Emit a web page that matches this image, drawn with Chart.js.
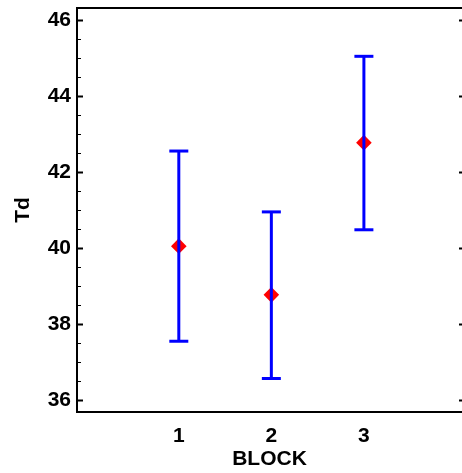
<!DOCTYPE html>
<html>
<head>
<meta charset="utf-8">
<script src="https://cdn.jsdelivr.net/npm/chart.js@4/dist/chart.umd.min.js"></script>
<style>
  html, body { margin: 0; padding: 0; background: #fff; }
  #chart { display: block; }
</style>
</head>
<body>
<canvas id="chart" width="462" height="473"></canvas>
<script>
const blocks = [1, 2, 3];
const means = [40.05, 38.77, 42.77];
const lower = [37.55, 36.57, 40.48];
const upper = [42.55, 40.95, 45.04];
const yTicks = [36, 38, 40, 42, 44, 46];

const FONT = "'Liberation Sans', Arial, sans-serif";

// one dataset per block for the error bar (line + caps)
let datasets = [];
for (let i = 0; i < blocks.length; i++) {
  datasets.push({
    label: 'bar' + blocks[i],
    data: [{x: blocks[i], y: lower[i]}, {x: blocks[i], y: upper[i]}],
    showLine: true,
    borderColor: '#0000ff',
    borderWidth: 3,
    pointStyle: 'line',
    pointRadius: 9.5,
    pointBorderWidth: 3,
    pointBorderColor: '#0000ff',
    pointBackgroundColor: '#0000ff',
    order: 1
  });
}
datasets.push({
  label: 'mean',
  data: blocks.map(function(b, i) { return {x: b, y: means[i]}; }),
  showLine: false,
  pointStyle: 'rectRot',
  pointRadius: 7.8,
  pointBorderWidth: 0,
  pointBackgroundColor: '#ff0000',
  pointBorderColor: '#ff0000',
  order: 2
});

// frame and inward ticks
const framePlugin = {
  id: 'frame',
  afterDraw: function(chart) {
    const ctx = chart.ctx;
    const a = chart.chartArea;
    const y = chart.scales.y;
    ctx.save();
    ctx.strokeStyle = '#000';
    ctx.lineWidth = 2;
    ctx.beginPath();
    ctx.moveTo(a.left, a.top);
    ctx.lineTo(a.right, a.top);
    ctx.moveTo(a.left, a.top - 1);
    ctx.lineTo(a.left, a.bottom + 1);
    ctx.moveTo(a.left, a.bottom);
    ctx.lineTo(a.right, a.bottom);
    ctx.stroke();
    for (let v = 36; v <= 46; v += 0.5) {
      const py = Math.round(y.getPixelForValue(v)) + 0.5;
      const major = yTicks.indexOf(v) > -1;
      ctx.lineWidth = major ? 2 : 1;
      ctx.beginPath();
      ctx.moveTo(a.left, py);
      ctx.lineTo(a.left + (major ? 6 : 4), py);
      if (major) {
        ctx.moveTo(a.right, py);
        ctx.lineTo(a.right - 3, py);
      }
      ctx.stroke();
    }
    ctx.restore();
  }
};

const ctx = document.getElementById('chart').getContext('2d');
const myChart = new Chart(ctx, {
  type: 'scatter',
  data: { datasets: datasets },
  options: {
    responsive: false,
    animation: false,
    layout: { autoPadding: false, padding: { left: 0, top: 8, right: 0, bottom: 0 } },
    plugins: { legend: { display: false }, tooltip: { enabled: false } },
    scales: {
      x: {
        type: 'linear',
        min: -0.1,
        max: 4.06,
        grid: { display: false, drawTicks: false },
        border: { display: false },
        afterBuildTicks: function(scale) {
          scale.ticks = blocks.map(function(v) { return {value: v}; });
        },
        afterFit: function(scale) {
          scale.height = 61;
          scale.paddingLeft = 0;
          scale.paddingRight = 0;
        },
        ticks: {
          color: '#000',
          padding: 12,
          maxRotation: 0,
          font: { family: FONT, size: 21, weight: 'bold' }
        },
        title: {
          display: true,
          text: 'BLOCK',
          color: '#000',
          padding: { top: 0, bottom: 1 },
          font: { family: FONT, size: 21, weight: 'bold' }
        }
      },
      y: {
        min: 35.69,
        max: 46.31,
        grid: { display: false, drawTicks: false },
        border: { display: false },
        afterBuildTicks: function(scale) {
          scale.ticks = yTicks.map(function(v) { return {value: v}; });
        },
        afterFit: function(scale) {
          scale.width = 77;
          scale.paddingTop = 0;
          scale.paddingBottom = 0;
        },
        ticks: {
          color: '#000',
          padding: 6,
          font: { family: FONT, size: 21, weight: 'bold' }
        },
        title: {
          display: true,
          text: 'Td',
          color: '#000',
          padding: { top: 11, bottom: 0 },
          font: { family: FONT, size: 21, weight: 'bold' }
        }
      }
    }
  },
  plugins: [framePlugin]
});
</script>
</body>
</html>
